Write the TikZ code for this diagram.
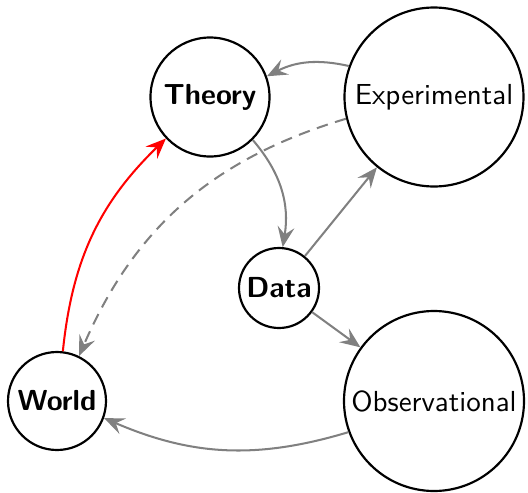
\documentclass[tikz,border=0pt]{standalone}
\usetikzlibrary{arrows.meta}
\begin{document}
\begin{tikzpicture}[x=0.345pt,y=-0.345pt,
  every node/.style={circle,draw=black,line width=0.75pt,inner sep=0pt,font=\sffamily},
  keynode/.style={font=\sffamily\bfseries},
  link/.style={draw=gray,line width=0.7pt,-{Stealth[length=7pt,width=5.8pt,inset=2.6pt]}},
  hypo/.style={link,dash pattern=on 4pt off 2.6pt},
  infer/.style={link,draw=red}]
  \useasboundingbox (0,0) rectangle (528,493);
  \node[keynode,minimum size=119*0.345pt] (theory) at (210,97) {Theory};
  \node[minimum size=179*0.345pt] (exp) at (434,97) {Experimental};
  \node[keynode,minimum size=80*0.345pt] (data) at (279,288) {Data};
  \node[keynode,minimum size=98*0.345pt] (world) at (57,401) {World};
  \node[minimum size=180*0.345pt] (obs) at (434,401) {Observational};

  \draw[link] (exp) to[bend right=20] (theory);
  \draw[hypo] (exp) to[bend right=25] (world);
  \draw[infer] (world) to[bend left=20] (theory);
  \draw[link] (theory) to[bend left=25] (data);
  \draw[link] (data) -- (exp);
  \draw[link] (data) -- (obs);
  \draw[link] (obs) to[bend left=20] (world);
\end{tikzpicture}
\end{document}
